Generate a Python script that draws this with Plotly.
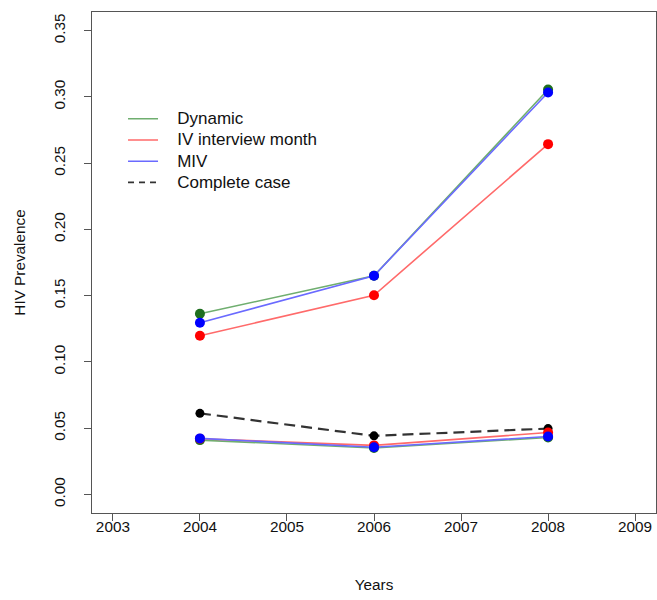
import plotly.graph_objects as go

years = [2004, 2006, 2008]

dynamic_upper = [0.1363, 0.1650, 0.3055]
iv_upper = [0.1197, 0.1503, 0.2643]
miv_upper = [0.1295, 0.1650, 0.3033]

complete_case = [0.0612, 0.0442, 0.0497]
dynamic_lower = [0.0410, 0.0350, 0.0430]
iv_lower = [0.0420, 0.0370, 0.0467]
miv_lower = [0.0423, 0.0356, 0.0437]

series_names = ["Dynamic", "IV interview month", "MIV", "Complete case"]
x_ticks = [2003, 2004, 2005, 2006, 2007, 2008, 2009]
y_ticks = [0.00, 0.05, 0.10, 0.15, 0.20, 0.25, 0.30, 0.35]

line_cols = {"Dynamic": "#6fae6f", "IV interview month": "#ff6a6a", "MIV": "#6a6aff", "Complete case": "#333333"}
mark_cols = {"Dynamic": "#1f6f1f", "IV interview month": "#ff0000", "MIV": "#0000ff", "Complete case": "#000000"}

fig = go.Figure()

fig.add_trace(go.Scatter(x=years, y=complete_case, mode="lines+markers",
                         line=dict(color=line_cols["Complete case"], width=2.2, dash="11px,6px"),
                         marker=dict(color=mark_cols["Complete case"], size=9),
                         showlegend=False))

for name, up, lo in [("Dynamic", dynamic_upper, dynamic_lower),
                     ("IV interview month", iv_upper, iv_lower),
                     ("MIV", miv_upper, miv_lower)]:
    for ys in (up, lo):
        fig.add_trace(go.Scatter(x=years, y=ys, mode="lines+markers",
                                 line=dict(color=line_cols[name], width=1.6),
                                 marker=dict(color=mark_cols[name], size=10),
                                 showlegend=False))

for name in series_names:
    fig.add_trace(go.Scatter(x=[None], y=[None], mode="lines",
                             name="<span style='font-size:17px'>\u00a0\u00a0\u00a0" + name + "</span>",
                             line=dict(color=line_cols[name], width=1.6,
                                       dash="6px,5px" if name == "Complete case" else "solid")))

font = dict(family="Liberation Sans, Arial, sans-serif", size=15.3, color="#111111")
legend_font = dict(family="Liberation Sans, Arial, sans-serif", size=14, color="#111111")

fig.update_layout(
    width=657, height=600,
    margin=dict(l=92, r=1, t=12, b=87),
    paper_bgcolor="white", plot_bgcolor="white",
    font=font,
    showlegend=True,
    legend=dict(x=0.055, y=0.818, xanchor="left", yanchor="top",
                bgcolor="rgba(0,0,0,0)", borderwidth=0, font=legend_font,
                tracegroupgap=0, itemwidth=30),
)

fig.update_xaxes(range=[2002.76, 2009.24], tickvals=x_ticks, ticktext=[str(v) for v in x_ticks],
                 ticks="outside", ticklen=7, tickcolor="#555555", tickwidth=1,
                 ticklabelstandoff=-7,
                 showline=True, linecolor="#555555", linewidth=1.2, mirror=True,
                 showgrid=False, zeroline=False,
                 title=dict(text="Years", standoff=44, font=font))
fig.update_yaxes(range=[-0.014, 0.364], tickvals=y_ticks, ticktext=[f"{v:.2f}" for v in y_ticks],
                 tickangle=-90,
                 ticks="outside", ticklen=7, tickcolor="#555555", tickwidth=1,
                 ticklabelstandoff=13,
                 showline=True, linecolor="#555555", linewidth=1.2, mirror=True,
                 showgrid=False, zeroline=False,
                 title=dict(text="HIV Prevalence", standoff=21, font=font))

fig.write_html("out.html", config={"displayModeBar": False},
               post_script="document.body.style.margin='0';")
